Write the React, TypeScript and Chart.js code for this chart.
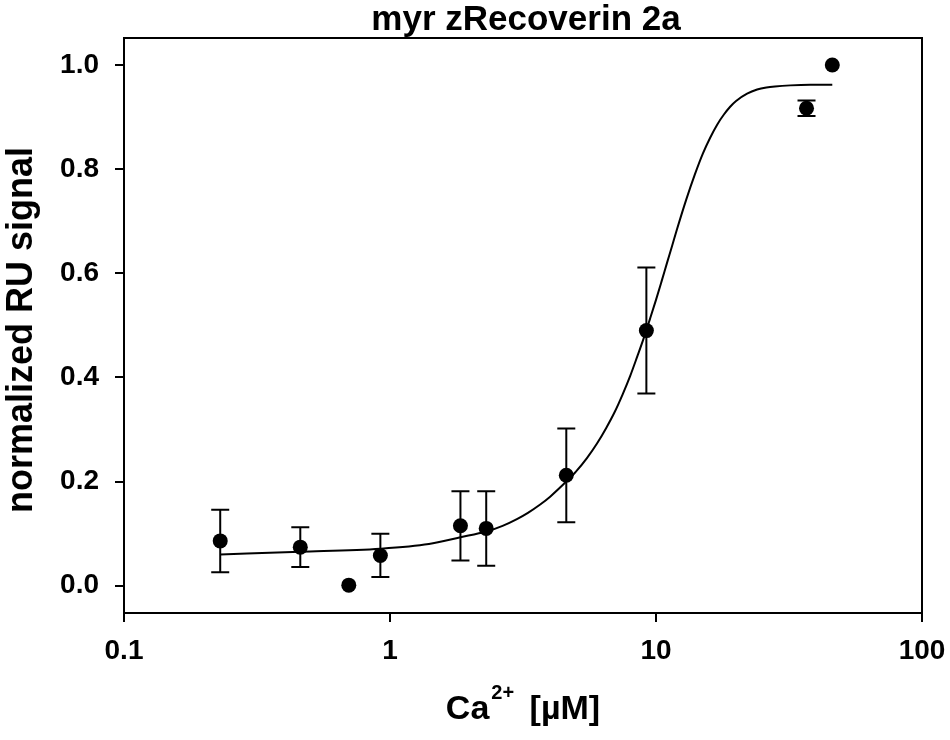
import React, { useEffect, useRef } from "react";
import { Chart, registerables } from "chart.js";

Chart.register(...registerables);

// ---- data ----
const concentrations = [0.23, 0.46, 0.7, 0.92, 1.84, 2.3, 4.6, 9.2, 36.8, 46];
const signal = [0.086, 0.074, 0.001, 0.058, 0.115, 0.11, 0.212, 0.49, 0.917, 1.0];
const errorSD = [0.06, 0.038, 0, 0.0415, 0.0665, 0.0715, 0.09, 0.121, 0.015, 0];

const fitX = [0.23, 0.46, 0.92, 1.4, 1.84, 2.3, 2.65, 3.0, 3.3, 3.67, 4.0, 4.6, 5.0, 5.5, 6.0, 6.5, 7.0, 7.5, 8.0, 8.5, 9.0, 9.5, 10.0, 10.5, 11.0, 11.5, 12.0, 13.0, 14.0, 15.0, 16.0, 17.0, 18.0, 19.0, 20.0, 22.0, 24.0, 26.0, 28.0, 32.0, 38.0, 46.0];
const fitY = [0.06, 0.065, 0.071, 0.08, 0.093, 0.104, 0.115, 0.128, 0.14, 0.156, 0.171, 0.2, 0.219, 0.245, 0.273, 0.303, 0.334, 0.368, 0.403, 0.44, 0.476, 0.513, 0.549, 0.585, 0.62, 0.653, 0.685, 0.742, 0.79, 0.83, 0.861, 0.886, 0.905, 0.92, 0.931, 0.945, 0.953, 0.957, 0.959, 0.961, 0.962, 0.962];

const xTickValues = [0.1, 1, 10, 100];
const xTickLabels = ["0.1", "1", "10", "100"];
const yTickValues = [0, 0.2, 0.4, 0.6, 0.8, 1.0];

const chartTitle = "myr zRecoverin 2a";
const yAxisTitle = "normalized RU signal";
const xAxisBase = "Ca";
const xAxisSup = "2+";
const xAxisRest = " [\u00B5M]";

const FONT = "Arial, 'Liberation Sans', sans-serif";

const decorPlugin = {
  id: "decor",
  afterDatasetsDraw(chart: any) {
    const ctx = chart.ctx;
    const xs = chart.scales.x;
    const ys = chart.scales.y;
    ctx.save();
    ctx.strokeStyle = "#000";
    ctx.lineWidth = 2;
    concentrations.forEach((c, i) => {
      const sd = errorSD[i];
      if (!sd) return;
      const px = xs.getPixelForValue(c);
      const top = ys.getPixelForValue(signal[i] + sd);
      const bot = ys.getPixelForValue(signal[i] - sd);
      ctx.beginPath();
      ctx.moveTo(px, top);
      ctx.lineTo(px, bot);
      ctx.moveTo(px - 9, top);
      ctx.lineTo(px + 9, top);
      ctx.moveTo(px - 9, bot);
      ctx.lineTo(px + 9, bot);
      ctx.stroke();
    });
    const a = chart.chartArea;
    ctx.beginPath();
    ctx.moveTo(a.left - 1, a.top);
    ctx.lineTo(a.right, a.top);
    ctx.lineTo(a.right, a.bottom);
    ctx.stroke();
    ctx.restore();
  },
  afterDraw(chart: any) {
    const ctx = chart.ctx;
    const a = chart.chartArea;
    ctx.save();
    ctx.fillStyle = "#000";
    ctx.font = `bold 35px ${FONT}`;
    ctx.textAlign = "center";
    ctx.textBaseline = "alphabetic";
    ctx.fillText(chartTitle, 526, 30);
    const big = `bold 34px ${FONT}`;
    const small = `bold 20px ${FONT}`;
    ctx.font = big;
    const w1 = ctx.measureText(xAxisBase).width;
    const w3 = ctx.measureText(xAxisRest).width;
    ctx.font = small;
    const w2 = ctx.measureText(xAxisSup).width;
    const gapA = 2;
    const gapB = 6;
    const total = w1 + gapA + w2 + gapB + w3;
    const x0 = (a.left + a.right) / 2 - total / 2;
    const base = 719;
    ctx.textAlign = "left";
    ctx.font = big;
    ctx.fillText(xAxisBase, x0, base);
    ctx.font = small;
    ctx.fillText(xAxisSup, x0 + w1 + gapA, base - 20);
    ctx.font = big;
    ctx.fillText(xAxisRest, x0 + w1 + gapA + w2 + gapB, base);
    ctx.translate(32, 330);
    ctx.rotate(-Math.PI / 2);
    ctx.font = `bold 36px ${FONT}`;
    ctx.textAlign = "center";
    ctx.fillText(yAxisTitle, 0, 0);
    ctx.restore();
  },
};

export default function App() {
  const ref = useRef<HTMLCanvasElement | null>(null);
  useEffect(() => {
    if (!ref.current) return;
    const chart = new Chart(ref.current, {
      type: "scatter",
      data: {
        datasets: [
          {
            label: "data",
            data: concentrations.map((c, i) => ({ x: c, y: signal[i] })),
            backgroundColor: "#000",
            borderColor: "#000",
            pointRadius: 7.5,
            pointBorderWidth: 0,
            showLine: false,
          },
          {
            label: "fit",
            data: fitX.map((x, i) => ({ x, y: fitY[i] })),
            showLine: true,
            borderColor: "#000",
            borderWidth: 2,
            pointRadius: 0,
            cubicInterpolationMode: "monotone",
            fill: false,
          },
        ],
      },
      options: {
        responsive: false,
        animation: false,
        devicePixelRatio: 1,
        layout: { padding: { top: 38, right: 28, left: 0, bottom: 0 } },
        plugins: {
          legend: { display: false },
          title: { display: false },
          tooltip: { enabled: false },
        },
        scales: {
          x: {
            type: "logarithmic",
            min: 0.1,
            max: 100,
            afterBuildTicks: (s: any) => {
              s.ticks = xTickValues.map((v) => ({ value: v }));
            },
            afterFit: (s: any) => {
              s.height = 127;
              s.paddingLeft = 0;
              s.paddingRight = 0;
            },
            ticks: {
              color: "#000",
              padding: 12,
              autoSkip: false,
              maxRotation: 0,
              font: { family: FONT, size: 28, weight: "bold" },
              callback: (v: any) => {
                const i = xTickValues.indexOf(Number(v));
                return i >= 0 ? xTickLabels[i] : "";
              },
            },
            grid: {
              drawOnChartArea: false,
              drawTicks: true,
              tickLength: 9,
              color: "#000",
              lineWidth: 2,
            },
            border: { display: true, color: "#000", width: 2 },
          },
          y: {
            type: "linear",
            min: -0.0525,
            max: 1.052,
            afterBuildTicks: (s: any) => {
              s.ticks = yTickValues.map((v) => ({ value: v }));
            },
            afterFit: (s: any) => {
              s.width = 124;
              s.paddingTop = 0;
              s.paddingBottom = 0;
            },
            ticks: {
              color: "#000",
              padding: 16,
              font: { family: FONT, size: 28, weight: "bold" },
              callback: (v: any) => Number(v).toFixed(1),
            },
            grid: {
              drawOnChartArea: false,
              drawTicks: true,
              tickLength: 9,
              color: "#000",
              lineWidth: 2,
            },
            border: { display: true, color: "#000", width: 2 },
          },
        },
      } as any,
      plugins: [decorPlugin],
    });
    return () => chart.destroy();
  }, []);
  return (
    <div style={{ position: "fixed", left: 0, top: 0, width: 950, height: 740, background: "#fff" }}>
      <canvas ref={ref} width={950} height={740} style={{ width: 950, height: 740, display: "block" }} />
    </div>
  );
}
